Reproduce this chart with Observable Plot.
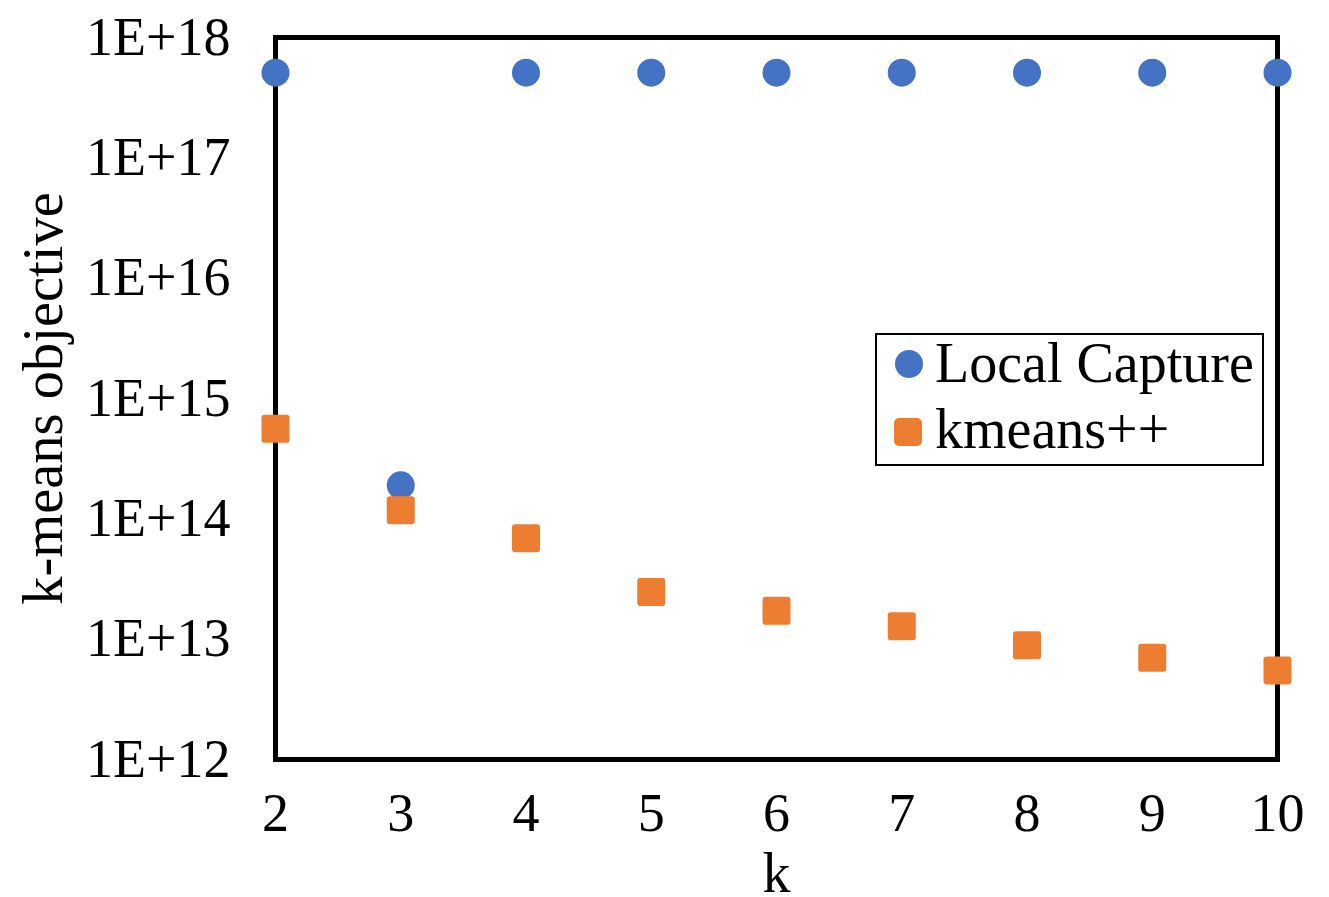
<!DOCTYPE html>
<html>
<head>
<meta charset="utf-8">
<script src="https://cdn.jsdelivr.net/npm/d3@7"></script>
<script src="https://cdn.jsdelivr.net/npm/@observablehq/plot@0.6"></script>
<style>
  html, body { margin: 0; padding: 0; background: #fff; }
  #wrap { position: relative; width: 1329px; height: 897px; }
  #legend {
    position: absolute; left: 875px; top: 333px; width: 389px; height: 133px;
    border: 2px solid #000; box-sizing: border-box; background: #fff;
    font-family: "Liberation Serif", "Times New Roman", serif; font-size: 56px; color: #000;
  }
  .lbl { position: absolute; left: 58px; line-height: 56px; white-space: nowrap; }
  .sw { position: absolute; width: 28px; height: 28px; }
</style>
</head>
<body>
<div id="wrap"></div>
<script>
const ks = [2, 3, 4, 5, 6, 7, 8, 9, 10];
const localCapture = [5.1e17, 1.9e14, 5.1e17, 5.1e17, 5.1e17, 5.1e17, 5.1e17, 5.1e17, 5.1e17];
const kmeansPP = [5.6e14, 1.18e14, 6.9e13, 2.47e13, 1.72e13, 1.28e13, 8.9e12, 7.0e12, 5.5e12];
const yTicks = [1e12, 1e13, 1e14, 1e15, 1e16, 1e17, 1e18];
const seriesNames = ["Local Capture", "kmeans++"];
const seriesColors = ["#4472C4", "#ED7D31"];

const lcData = ks.map((k, i) => ({k, v: localCapture[i]}));
const kpData = ks.map((k, i) => ({k, v: kmeansPP[i]}));

const roundedSquare = {
  draw(context, size) {
    const s = Math.sqrt(size) / 2;
    const rr = s * 0.22;
    context.moveTo(-s + rr, -s);
    context.arcTo(s, -s, s, s, rr);
    context.arcTo(s, s, -s, s, rr);
    context.arcTo(-s, s, -s, -s, rr);
    context.arcTo(-s, -s, s, -s, rr);
    context.closePath();
  }
};

const font = "'Liberation Serif', 'Times New Roman', serif";

const chart = Plot.plot({
  width: 1329,
  height: 897,
  marginLeft: 275,
  marginRight: 52,
  marginTop: 37,
  marginBottom: 138,
  style: {fontFamily: font, fontSize: "54px", color: "#000", background: "#fff"},
  x: {domain: [2, 10], ticks: ks, tickFormat: d => String(d)},
  y: {type: "log", domain: [1e12, 1e18]},
  marks: [
    Plot.frame({stroke: "#000", strokeWidth: 5}),
    Plot.axisX({ticks: ks, tickSize: 0, tickPadding: 33, tickFormat: d => String(d),
      label: null}),
    Plot.axisX({ticks: [], label: "k", labelAnchor: "center", labelArrow: "none", labelOffset: 132, fontSize: 56}),
    Plot.axisY({ticks: yTicks, tickSize: 0, tickPadding: 45,
      tickFormat: d => "1E+" + Math.round(Math.log10(d)), label: null}),
    Plot.axisY({ticks: [], label: "k-means objective", labelAnchor: "center", labelArrow: "none", labelOffset: 254, fontSize: 56.5}),
    Plot.dot(lcData, {x: "k", y: "v", r: 14, fill: seriesColors[0], symbol: "circle"}),
    Plot.dot(kpData, {x: "k", y: "v", r: 15.8, fill: seriesColors[1], symbol: roundedSquare})
  ]
});

const wrap = document.getElementById("wrap");
wrap.appendChild(chart);

const legend = document.createElement("div");
legend.id = "legend";
legend.innerHTML = `
  <span class="sw" style="left:18px;top:15px;background:${seriesColors[0]};border-radius:50%"></span>
  <span class="lbl" style="top:0px">${seriesNames[0]}</span>
  <span class="sw" style="left:17px;top:83px;background:${seriesColors[1]};border-radius:5px"></span>
  <span class="lbl" style="top:66px">${seriesNames[1]}</span>`;
wrap.appendChild(legend);
</script>
</body>
</html>
